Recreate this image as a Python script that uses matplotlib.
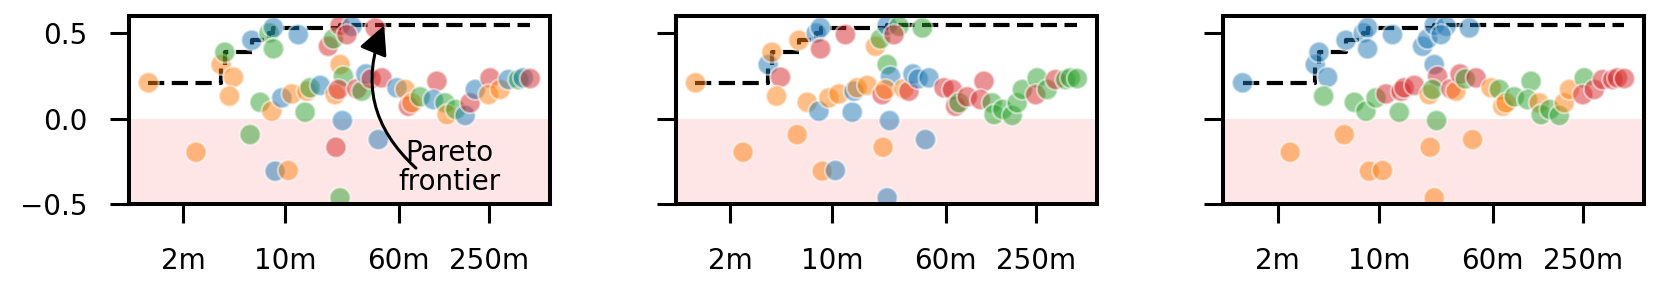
import numpy as np
import matplotlib
matplotlib.use("Agg")
import matplotlib.pyplot as plt
from matplotlib.ticker import FixedLocator, FixedFormatter, NullLocator

# -----------------------------
# data
wall_time = [1.15, 2.44, 3.63, 3.85, 4.41, 4.14, 5.74, 5.90, 6.73, 8.09,
             7.76, 8.30, 8.30, 8.53, 10.5, 9.48, 11.1, 12.3, 13.7, 14.1,
             14.8, 17.4, 19.8, 21.4, 23.8, 28.7, 26.5, 41.5, 23.8, 25.1,
             22.0, 23.2, 31.0, 33.6, 35.8, 38.9, 46.1, 24.7, 22.3, 23.8,
             43.6, 58.5, 66.7, 70.2, 74.1, 84.5, 110, 104, 125, 129,
             148, 172, 186, 202, 255, 249, 299, 341, 400, 431, 481]
score = [0.209, -0.197, 0.316, 0.388, 0.242, 0.131, -0.094, 0.458, 0.095, 0.043,
         0.501, 0.532, 0.408, -0.308, -0.304, 0.121, 0.144, 0.491, 0.037, 0.160,
         0.180, 0.194, 0.423, 0.466, 0.545, 0.540, 0.491, 0.530, 0.316, 0.247,
         0.140, 0.170, 0.174, 0.160, 0.261, 0.232, 0.238, -0.012, -0.168, -0.464,
         -0.123, 0.180, 0.170, 0.072, 0.092, 0.127, 0.218, 0.111, 0.092, 0.023,
         0.053, 0.018, 0.092, 0.170, 0.238, 0.140, 0.170, 0.228, 0.228, 0.238, 0.234]

# hue of each point in the three panels (b/o/g/r)
hue_a = ("o o o g o o g b g o g b g b o b o b g o g b r g r b r r o g "
         "o r r g b r r b r g b b o r o g r b g o g b r b r o o b g b r").split()
hue_b = ("o o b o r o o o o b b b r o b o o r b b o o o g b g r g g b "
         "r o o r b b b b o b b r r r g r r r g g g g g g g r g r g g g").split()
hue_c = ("b o b b b g o b g g b b b o o g r b g r r r b b b b b b b r "
         "o g r o r g r g o o o o g o o g g g o g g g o o g r r r r r r").split()

xticks = [2, 10, 60, 250]
xtick_labels = ["2m", "10m", "60m", "250m"]
yticks = [-0.5, 0.0, 0.5]

palette = {"b": "tab:blue", "o": "tab:orange", "g": "tab:green", "r": "tab:red"}

# pareto frontier: running max over time
order = np.argsort(wall_time, kind="stable")
front_x = np.asarray(wall_time)[order]
front_y = np.maximum.accumulate(np.asarray(score)[order])

# -----------------------------
plt.rcParams["font.family"] = ["DejaVu Sans"]
plt.rcParams["font.size"] = 10

fig, axes = plt.subplots(1, 3, figsize=(8.305, 1.46), dpi=200, sharey=True)
fig.subplots_adjust(left=0.0777, right=0.990, bottom=0.3014, top=0.9452, wspace=0.299)

for ax, hue in zip(axes, [hue_a, hue_b, hue_c]):
    ax.axhspan(-1, 0, facecolor=(1.0, 0.9, 0.9), lw=0, zorder=0)
    ax.plot(front_x, front_y, drawstyle="steps-post", color="black",
            lw=1.5, linestyle=(0, (3.9, 1.8)), zorder=1)
    ax.scatter(wall_time, score, c=[palette[h] for h in hue], s=56,
               alpha=0.5, edgecolors="white", linewidths=0.8, zorder=2)
    ax.set_xscale("log")
    ax.set_xlim(0.847, 660)
    ax.set_ylim(-0.5, 0.6)
    ax.xaxis.set_major_locator(FixedLocator(xticks))
    ax.xaxis.set_major_formatter(FixedFormatter(xtick_labels))
    ax.xaxis.set_minor_locator(NullLocator())
    ax.set_yticks(yticks)
    for sp in ax.spines.values():
        sp.set_linewidth(1.45)
    ax.tick_params(axis="x", length=7, width=1.1, pad=8.5, labelsize=10)
    ax.tick_params(axis="y", length=7, width=1.1, pad=8, labelsize=10)

axes[0].set_yticklabels(["\u22120.5", "0.0", "0.5"])

ax = axes[0]
ax.text(134, -0.285, "Pareto\nfrontier", ha="center", va="center",
        fontsize=10, linespacing=1.05, zorder=5)
ax.annotate("", xy=(47.8, 0.545), xytext=(79, -0.29),
            arrowprops=dict(arrowstyle="-|>", connectionstyle="arc3,rad=-0.35",
                            color="black", lw=1.1, mutation_scale=22,
                            shrinkA=0, shrinkB=0), zorder=5)

fig.savefig("out.png", dpi=200)
